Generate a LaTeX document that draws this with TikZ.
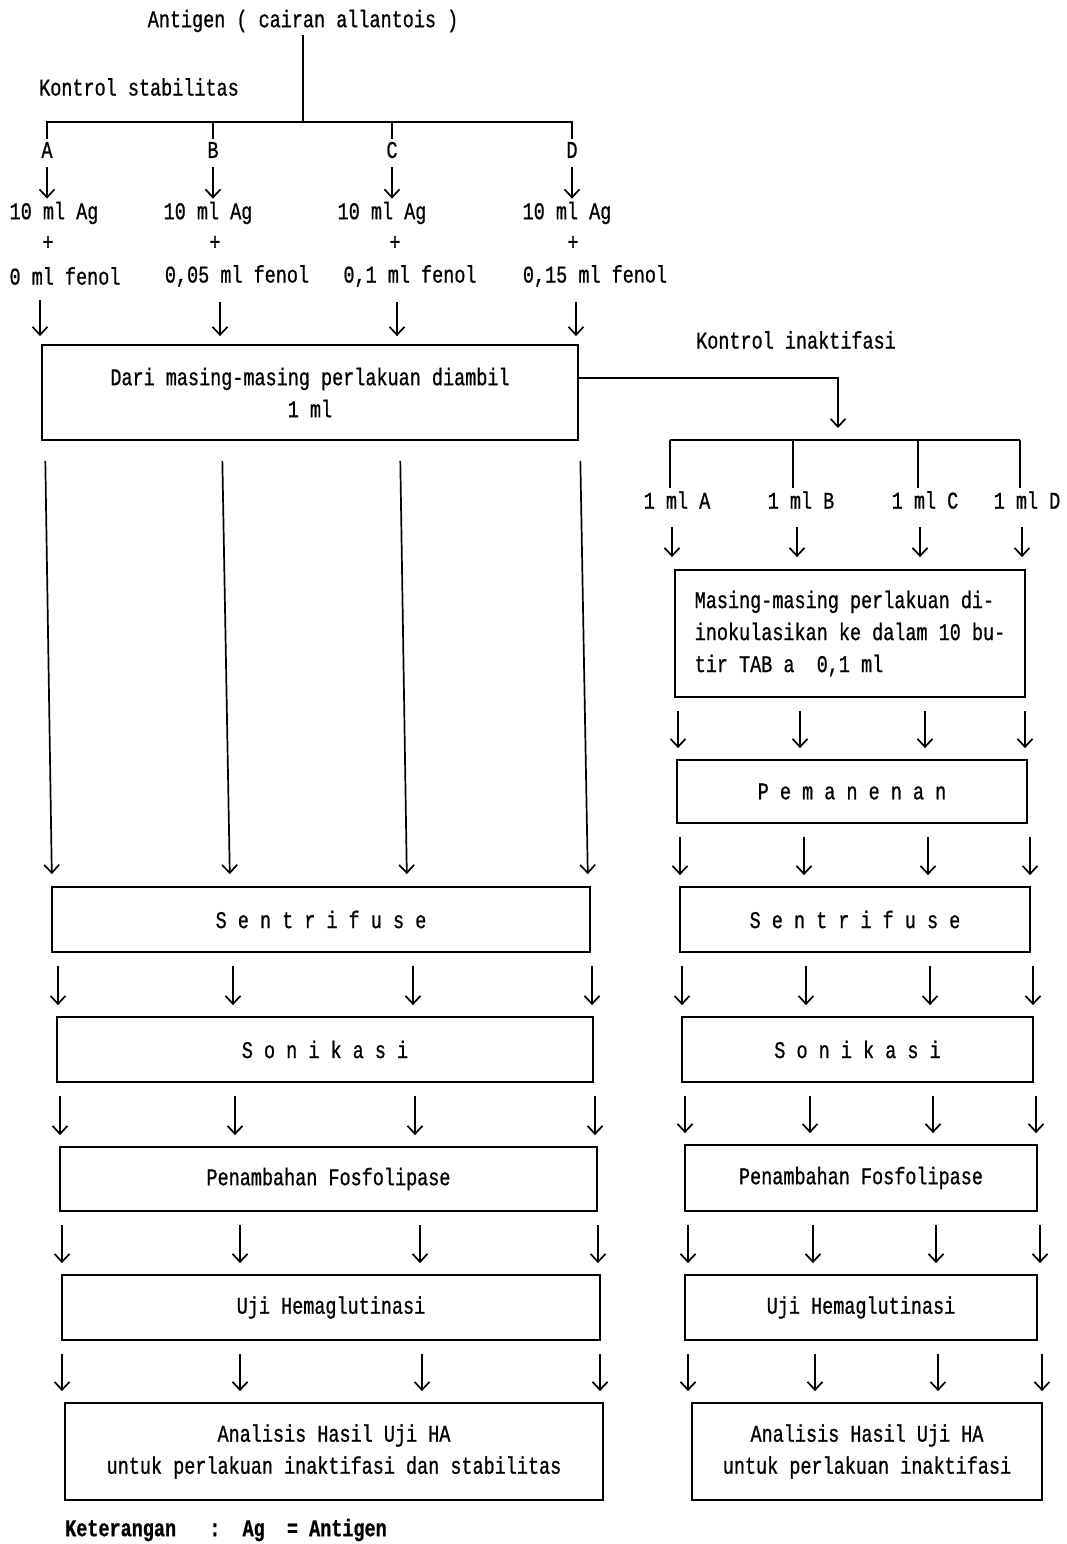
\documentclass[tikz,border=0pt]{standalone}
\usepackage{fontspec}
\newfontfamily\dotfont[FakeStretch=0.77,FakeBold=0.8]{Liberation Mono}
\usetikzlibrary{arrows.meta}
\begin{document}
\begin{tikzpicture}[x=1pt,y=-1pt,
  every node/.style={font=\dotfont\fontsize{24}{32}\selectfont, inner sep=3pt},
  ln/.style={line width=1.7pt},
  arr/.style={ln, -{Straight Barb[length=8pt,width=15pt]}},
  box/.style={draw, line width=1.8pt, align=center, inner sep=0pt},
]
\useasboundingbox[fill=white] (0,0) rectangle (1066,1544);

% ---------- top tree ----------
\node (title) at (303,21) {Antigen ( cairan allantois )};
\node[anchor=west] (ks) at (36,87) {Kontrol stabilitas};
\coordinate (bar) at (302,122);
\node (A) at (47,150) {A};
\node (B) at (213,150) {B};
\node (C) at (392,150) {C};
\node (D) at (572,150) {D};
\draw[ln] (title.south) -- (title.south |- bar);
\draw[ln] (A.north) -- (A.north |- bar) -- (D.north |- bar) -- (D.north);
\draw[ln] (B.north |- bar) -- (B.north);
\draw[ln] (C.north |- bar) -- (C.north);

\node (ag1) at (54,213) {10 ml Ag};
\node (ag2) at (208,213) {10 ml Ag};
\node (ag3) at (382,213) {10 ml Ag};
\node (ag4) at (567,213) {10 ml Ag};
\foreach \l/\g in {A/ag1,B/ag2,C/ag3,D/ag4}
  \draw[arr, shorten <=6pt] (\l.south) -- (\l.south |- \g.north);

\node (p1) at (48,243) {+};
\node (p2) at (215,243) {+};
\node (p3) at (395,243) {+};
\node (p4) at (573,243) {+};

\node (f1) at (65,276) {0 ml fenol};
\node (f2) at (237,276) {0,05 ml fenol};
\node (f3) at (410,276) {0,1 ml fenol};
\node (f4) at (595,276) {0,15 ml fenol};

% ---------- left column boxes ----------
\node[box, minimum width=536pt, minimum height=95pt] (box1) at (310,392.5)
  {Dari masing-masing perlakuan diambil\\1 ml};
\node[box, minimum width=538pt, minimum height=65pt] (sentL) at (321,919.5) {S e n t r i f u s e};
\node[box, minimum width=536pt, minimum height=65pt] (sonL) at (325,1049.5) {S o n i k a s i};
\node[box, minimum width=537pt, minimum height=64pt] (fosL) at (328.5,1179) {Penambahan Fosfolipase};
\node[box, minimum width=538pt, minimum height=65pt] (ujiL) at (331,1307.5) {Uji Hemaglutinasi};
\node[box, minimum width=538pt, minimum height=97pt] (anaL) at (334,1451.5)
  {Analisis Hasil Uji HA\\untuk perlakuan inaktifasi dan stabilitas};

\foreach \f/\x in {f1/40,f2/220,f3/397,f4/576}{
  \coordinate (t) at (\x,0);
  \draw[arr, shorten <=12pt, shorten >=8pt] (\f.south -| t) -- (box1.north -| t);
}
\foreach \a/\b in {45/52,222/230,400/407,580/588}{
  \coordinate (ta) at (\a,0);
  \coordinate (tb) at (\b,0);
  \draw[arr, shorten <=20pt, shorten >=12pt] (box1.south -| ta) -- (sentL.north -| tb);
}

% ---------- right branch ----------
\node (ki) at (796,340) {Kontrol inaktifasi};
\coordinate (k) at (838,378);
\coordinate (bar2) at (838,440);
\draw[arr, shorten >=12pt] (box1.east |- k) -- (k) -- (bar2);
\coordinate (b1) at (670,440);
\coordinate (b2) at (793,440);
\coordinate (b3) at (918,440);
\coordinate (b4) at (1020,440);
\draw[ln] (b1) -- (b4);

\node (mA) at (677,500) {1 ml A};
\node (mB) at (801,500) {1 ml B};
\node (mC) at (925,500) {1 ml C};
\node (mD) at (1027,500) {1 ml D};
\foreach \b/\m in {b1/mA,b2/mB,b3/mC,b4/mD}
  \draw[ln] (\b) -- (\b |- \m.north);

\node[box, align=left, minimum width=350pt, minimum height=127pt] (box2) at (850,633.5)
  {Masing-masing perlakuan di-\\inokulasikan ke dalam 10 bu-\\tir TAB a~~0,1 ml};
\node[box, minimum width=350pt, minimum height=63pt] (panen) at (852,791.5) {P e m a n e n a n};
\node[box, minimum width=350pt, minimum height=65pt] (sentR) at (855,919.5) {S e n t r i f u s e};
\node[box, minimum width=351pt, minimum height=65pt] (sonR) at (857.5,1049.5) {S o n i k a s i};
\node[box, minimum width=352pt, minimum height=66pt] (fosR) at (861,1178) {Penambahan Fosfolipase};
\node[box, minimum width=352pt, minimum height=65pt] (ujiR) at (861,1307.5) {Uji Hemaglutinasi};
\node[box, minimum width=350pt, minimum height=97pt] (anaR) at (867,1451.5)
  {Analisis Hasil Uji HA\\untuk perlakuan inaktifasi};

\foreach \m/\x in {mA/672,mB/797,mC/920,mD/1022}{
  \coordinate (t) at (\x,0);
  \draw[arr, shorten <=15pt, shorten >=12pt] (\m.south -| t) -- (box2.north -| t);
}

% ---------- row arrows ----------
\foreach \u/\v/\xs in {
    sentL/sonL/{58,233,413,592},
    sonL/fosL/{60,235,415,595},
    fosL/ujiL/{62,240,420,598},
    ujiL/anaL/{62,240,422,600},
    box2/panen/{678,800,925,1025},
    panen/sentR/{680,804,928,1030},
    sentR/sonR/{682,806,930,1033},
    sonR/fosR/{685,810,933,1036},
    fosR/ujiR/{688,813,936,1040},
    ujiR/anaR/{688,815,938,1042}}{
  \foreach \x in \xs {
    \coordinate (t) at (\x,0);
    \draw[arr, shorten <=13pt, shorten >=11pt] (\u.south -| t) -- (\v.north -| t);
  }
}

% ---------- legend ----------
\node[anchor=west, font=\dotfont\bfseries\fontsize{24}{32}\selectfont] (ket) at (62,1530)
  {Keterangan~~~:~~Ag~~=~Antigen};
\end{tikzpicture}
\end{document}
